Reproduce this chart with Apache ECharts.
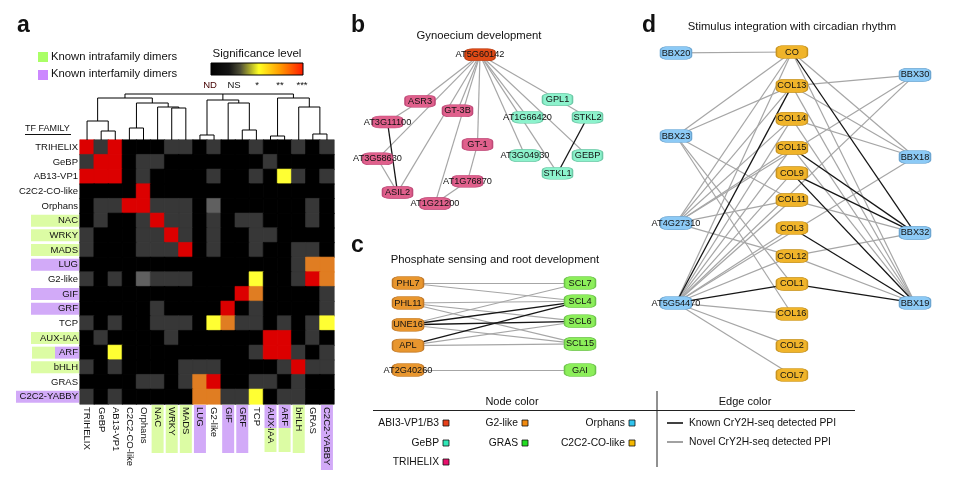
<!DOCTYPE html>
<html><head><meta charset="utf-8">
<script src="https://cdn.jsdelivr.net/npm/echarts@6/dist/echarts.min.js"></script>
<style>html,body{margin:0;padding:0;background:#fff}#c{width:960px;height:481px}</style>
</head><body><div id="c"></div>
<script>
const FONT = '"Liberation Sans", Arial, Helvetica, sans-serif';

// ---------- panel a : heatmap ----------
const families = ['TRIHELIX','GeBP','AB13-VP1','C2C2-CO-like','Orphans','NAC','WRKY','MADS','LUG','G2-like','GIF','GRF','TCP','AUX-IAA','ARF','bHLH','GRAS','C2C2-YABBY'];
// 0 ND, 1 NS, 2 NS (lighter), 3 *, 4 **, 5 ***
const significance = [
  [5,1,5,0,0,0,1,1,0,1,0,0,1,0,0,1,0,1],
  [1,5,5,0,1,1,0,0,0,0,0,0,0,1,0,0,0,0],
  [5,5,5,0,1,0,0,0,0,1,0,0,1,0,3,1,0,1],
  [0,0,0,0,5,0,0,0,0,0,0,0,0,0,0,0,0,0],
  [0,1,1,5,5,1,1,1,0,2,0,0,0,0,0,0,1,0],
  [0,1,0,0,1,5,1,1,0,1,0,1,1,0,0,0,1,0],
  [1,0,0,0,1,1,5,1,0,1,0,0,1,1,0,0,0,0],
  [1,0,0,0,1,1,1,5,0,1,0,0,1,0,0,1,1,0],
  [0,0,0,0,0,0,0,0,0,0,0,0,0,0,0,1,4,4],
  [1,0,1,0,2,1,1,1,0,0,0,0,3,0,0,1,5,4],
  [0,0,0,0,0,0,0,0,0,0,0,5,4,0,0,0,0,1],
  [0,0,0,0,0,1,0,0,0,0,5,0,1,0,0,0,0,1],
  [1,0,1,0,0,1,1,1,0,3,4,1,1,0,1,0,1,3],
  [0,1,0,0,0,0,1,0,0,0,0,0,0,5,5,0,1,0],
  [0,0,3,0,0,0,0,0,0,0,0,0,1,5,5,1,0,1],
  [1,0,1,0,0,0,0,1,1,1,0,0,0,0,1,5,1,1],
  [0,0,0,0,1,1,0,1,4,5,0,0,1,1,0,1,0,0],
  [1,0,1,0,0,0,0,0,4,4,1,1,3,0,1,1,0,0]
];
const levelColors = ['#000000','#373737','#606060','#ffff33','#e07d22','#dc0000'];
const sigTicks = ['ND','NS','*','**','***'];
// dendrogram (linkage: clusters get ids 18,19,...)
const dendroChildren = [[1,2],[0,18],[3,4],[6,7],[5,21],[20,22],[19,23],[8,9],[11,12],[10,26],[25,27],[13,14],[16,17],[15,30],[29,31],[24,28,32]];
const dendroHeights  = [9,19,12,32,33,37,42,5,10,37,40,4,6,33,42,46];
// label backgrounds: g known intrafamily, p known interfamily
const rowLabelKind = {NAC:'g',WRKY:'g',MADS:'g',LUG:'p',GIF:'p',GRF:'p','AUX-IAA':'g',ARF:'gp',bHLH:'g','C2C2-YABBY':'pw'};
const colLabelKind = {NAC:'g',WRKY:'g',MADS:'g',LUG:'p',GIF:'p',GRF:'p','AUX-IAA':'pg',ARF:'pg',bHLH:'g','C2C2-YABBY':'pw'};

// ---------- panel b ----------
const gynNodes  = ['AT5G60142','ASR3','GT-3B','AT3G11100','GT-1','AT3G58630','ASIL2','AT1G76870','AT1G21200','GPL1','AT1G66420','STKL2','AT3G04930','GEBP','STKL1'];
const gynFamily = ['ABI3','TRI','TRI','TRI','TRI','TRI','TRI','TRI','TRI','GEBP','GEBP','GEBP','GEBP','GEBP','GEBP'];
const gynX = [48,24,39,11,47,7,15,43,30,79,67,91,66,91,79];
const gynY = [3,32,38,45,59,68,89,82,96,31,42,42,66,66,77];
const gynKnown = [['AT3G11100','ASIL2'],['STKL2','STKL1']];
const gynNovel = [['AT5G60142','ASR3'],['ASR3','AT3G11100'],['AT5G60142','AT3G58630'],['AT5G60142','GT-3B'],['AT5G60142','ASIL2'],['AT5G60142','AT1G21200'],['AT5G60142','GT-1'],['GT-1','AT1G76870'],['AT1G76870','AT1G21200'],['AT3G58630','ASIL2'],['AT5G60142','GPL1'],['AT5G60142','AT1G66420'],['AT5G60142','AT3G04930'],['AT5G60142','STKL1'],['AT5G60142','GEBP'],['GPL1','STKL2']];

// ---------- panel c ----------
const phoNodes  = ['PHL7','PHL11','UNE16','APL','AT2G40260','SCL7','SCL4','SCL6','SCL15','GAI'];
const phoFamily = ['G2','G2','G2','G2','G2','GRAS','GRAS','GRAS','GRAS','GRAS'];
const phoX = [0,0,0,0,0,100,100,100,100,100];
const phoY = [0,23,48,72,100,0,21,44,70,100];
const phoKnown = [['UNE16','SCL4'],['UNE16','SCL6'],['APL','SCL4']];
const phoNovel = [['PHL7','SCL7'],['PHL7','SCL4'],['PHL11','SCL4'],['PHL11','SCL6'],['PHL11','SCL15'],['UNE16','SCL7'],['UNE16','SCL15'],['APL','SCL6'],['APL','SCL15'],['AT2G40260','GAI']];

// ---------- panel d ----------
const cirNodes  = ['BBX20','BBX23','AT4G27310','AT5G54470','CO','COL13','COL14','COL15','COL9','COL11','COL3','COL12','COL1','COL16','COL2','COL7','BBX30','BBX18','BBX32','BBX19'];
const cirFamily = ['ORPH','ORPH','ORPH','ORPH','CO','CO','CO','CO','CO','CO','CO','CO','CO','CO','CO','CO','ORPH','ORPH','ORPH','ORPH'];
const cirX = [0,0,0,0,48.5,48.5,48.5,48.5,48.5,48.5,48.5,48.5,48.5,48.5,48.5,48.5,100,100,100,100];
const cirY = [0.3,26,53,77.7,0,10.5,20.7,29.7,37.5,45.8,54.5,63.2,71.8,81.1,91,100,7.1,32.5,56,77.7];
const cirKnown = [['CO','BBX32'],['COL13','AT5G54470'],['COL15','BBX32'],['COL9','BBX32'],['COL9','BBX19'],['COL3','BBX19'],['COL1','BBX19'],['COL1','AT5G54470']];
const cirNovel = [['CO','BBX20'],['CO','BBX23'],['CO','AT4G27310'],['CO','AT5G54470'],['CO','BBX18'],['CO','BBX19'],
  ['COL13','BBX23'],['COL13','BBX30'],['COL13','AT4G27310'],['COL13','BBX18'],['COL13','BBX19'],
  ['COL14','AT4G27310'],['COL14','AT5G54470'],['COL14','BBX18'],['COL14','BBX19'],
  ['COL15','AT4G27310'],['COL15','AT5G54470'],['COL15','BBX19'],['COL9','AT5G54470'],
  ['COL11','AT4G27310'],['COL11','BBX23'],['COL11','AT5G54470'],['COL11','BBX32'],
  ['COL3','AT5G54470'],['COL12','AT4G27310'],['COL12','AT5G54470'],['COL12','BBX32'],['COL12','BBX19'],
  ['COL1','BBX23'],['COL16','BBX23'],['COL16','AT5G54470'],['COL2','AT5G54470'],['COL7','AT5G54470'],
  ['BBX30','AT5G54470'],['BBX30','AT4G27310'],['BBX18','AT5G54470']];

// ---------- legend ----------
const nodeLegend = [['ABI3-VP1/B3','ABI3'],['G2-like','G2'],['Orphans','ORPH'],['GeBP','GEBP'],['GRAS','GRAS'],['C2C2-CO-like','CO'],['TRIHELIX','TRI']];

// ---------- styles ----------
const nodeFill   = {ABI3:'#de4a16',TRI:'#e0608c',GEBP:'#8cf2cc',G2:'#e8962e',GRAS:'#8cee5a',CO:'#f0b42a',ORPH:'#8ccaf6'};
const nodeBorder = {ABI3:'#b83a10',TRI:'#bf4a78',GEBP:'#6cc8a6',G2:'#c07828',GRAS:'#6cc44a',CO:'#c89420',ORPH:'#6ca6d2'};
const legendFill = {ABI3:'#e8401a',G2:'#f08a10',ORPH:'#30c4ee',GEBP:'#30e8b8',GRAS:'#22dd22',CO:'#f4b800',TRI:'#e8106c'};
const GREEN_BG = '#dcfca4', PURPLE_BG = '#d2aaf8';

// ---------- build ----------
const heatData = [];
significance.forEach((row, r) => row.forEach((v, c) => heatData.push({value: [c, r, v],
  itemStyle: {borderColor: levelColors[v], borderWidth: 0.6}})));

// dendrogram geometry from linkage
const dPos = families.map((_, i) => ({x: i, h: 0}));
const dendroLines = [];
dendroChildren.forEach((ch, k) => {
  const h = dendroHeights[k];
  const pts = ch.map(id => dPos[id]);
  const first = pts[0], last = pts[pts.length - 1];
  dendroLines.push({coords: [[first.x, first.h], [first.x, h], [last.x, h], [last.x, last.h]]});
  pts.slice(1, -1).forEach(p => dendroLines.push({coords: [[p.x, p.h], [p.x, h]]}));
  dPos.push({x: (first.x + last.x) / 2, h: h});
});

function rowLabel(name) {
  const k = rowLabelKind[name];
  if (!k) return '{n|' + name + '}';
  if (k === 'gp') return '{gs| }{pr|' + name + '}';
  return '{' + k + '|' + name + '}';
}
function colLabel(name) {
  const k = colLabelKind[name];
  if (!k) return '{n|' + name + '}';
  if (k === 'pg') {
    if (name === 'AUX-IAA') return '{pc|AUX-}{gc|IAA}';
    return '{pc|' + name + '}{gc| }';
  }
  return '{' + k + '|' + name + '}';
}

function graphSeries(idx, nodes, fam, xs, ys, known, novel, size) {
  return {
    type: 'graph', coordinateSystem: 'cartesian2d', xAxisIndex: idx, yAxisIndex: idx,
    symbol: 'roundRect', symbolSize: size, silent: true, z: 3,
    label: {show: true, position: 'inside', fontSize: 9.2, color: '#111', fontFamily: FONT},
    emphasis: {disabled: true},
    data: nodes.map((n, i) => ({name: n, value: [xs[i], ys[i]],
      itemStyle: {color: nodeFill[fam[i]], borderColor: nodeBorder[fam[i]], borderWidth: 1}})),
    links: novel.map(e => ({source: e[0], target: e[1], lineStyle: {color: '#a6a6a6', width: 1.2}}))
      .concat(known.map(e => ({source: e[0], target: e[1], lineStyle: {color: '#161616', width: 1.3}}))),
    lineStyle: {opacity: 1, curveness: 0}
  };
}

const hiddenAxis = (min, max, inverse) => ({type: 'value', min, max, inverse: !!inverse, show: false});

const graphics = [];
function txt(text, x, y, size, opt) {
  graphics.push({type: 'text', silent: true, style: Object.assign({text, x, y, fill: '#111',
    font: (opt && opt.weight ? opt.weight + ' ' : '') + size + 'px ' + FONT,
    textAlign: 'center', textVerticalAlign: 'middle'}, opt && opt.style)});
}
// panel letters
['a','b','c','d'].forEach((l, i) => {
  const pos = [[17, 26], [351, 26], [351, 246], [642, 26]][i];
  txt(l, pos[0], pos[1], 23, {weight: 'bold', style: {textAlign: 'left'}});
});
// heatmap legend
graphics.push({type: 'rect', silent: true, shape: {x: 38, y: 52, width: 10, height: 10}, style: {fill: '#aaff66'}});
graphics.push({type: 'rect', silent: true, shape: {x: 38, y: 70, width: 10, height: 10}, style: {fill: '#cc88ff'}});
txt('Known intrafamily dimers', 51, 57, 11.3, {style: {textAlign: 'left'}});
txt('Known interfamily dimers', 51, 74, 11.3, {style: {textAlign: 'left'}});
txt('Significance level', 257, 54, 11.5);
graphics.push({type: 'rect', silent: true, shape: {x: 211, y: 63, width: 92, height: 12},
  style: {stroke: '#000', lineWidth: 1, fill: new echarts.graphic.LinearGradient(0, 0, 1, 0, [
    {offset: 0, color: '#000000'}, {offset: 0.2, color: '#141414'}, {offset: 0.32, color: '#4e4e36'},
    {offset: 0.52, color: '#ffff22'}, {offset: 0.75, color: '#ff9a00'}, {offset: 1, color: '#ff1800'}])}});
const tickX = [210, 234, 257, 280, 302];
sigTicks.forEach((t, i) => txt(t, tickX[i], 85, 9.5, {style: {fill: i === 0 ? '#400' : '#111'}}));
txt('TF FAMILY', 25, 129, 9, {style: {textAlign: 'left'}});
graphics.push({type: 'line', silent: true, shape: {x1: 25, y1: 134.5, x2: 71, y2: 134.5}, style: {stroke: '#111', lineWidth: 1}});
// panel titles
txt('Gynoecium development', 479, 36, 11.3);
txt('Phosphate sensing and root development', 495, 260, 11.3);
txt('Stimulus integration with circadian rhythm', 792, 27, 11.3);
// bottom legend
graphics.push({type: 'line', silent: true, shape: {x1: 373, y1: 410.5, x2: 855, y2: 410.5}, style: {stroke: '#222', lineWidth: 1}});
graphics.push({type: 'line', silent: true, shape: {x1: 657, y1: 391, x2: 657, y2: 467}, style: {stroke: '#222', lineWidth: 1}});
txt('Node color', 512, 402, 11);
txt('Edge color', 745, 402, 11);
const legX = [439, 518, 625], legY = [423, 443, 462];
nodeLegend.forEach((e, i) => {
  const x = legX[i % 3], y = legY[Math.floor(i / 3)];
  txt(e[0], x, y, 10.3, {style: {textAlign: 'right'}});
  graphics.push({type: 'rect', silent: true, shape: {x: x + 4, y: y - 3, width: 6, height: 6},
    style: {fill: legendFill[e[1]], stroke: '#111', lineWidth: 0.8}});
});
graphics.push({type: 'line', silent: true, shape: {x1: 667, y1: 423, x2: 683, y2: 423}, style: {stroke: '#111', lineWidth: 1.6}});
graphics.push({type: 'line', silent: true, shape: {x1: 667, y1: 442, x2: 683, y2: 442}, style: {stroke: '#8a8a8a', lineWidth: 1.6}});
txt('Known CrY2H-seq detected PPI', 689, 423, 10.3, {style: {textAlign: 'left'}});
txt('Novel CrY2H-seq detected PPI', 689, 442, 10.3, {style: {textAlign: 'left'}});

const labBase = {fontSize: 9.5, fontFamily: FONT, color: '#111'};
const option = {
  backgroundColor: '#fff',
  animation: false,
  textStyle: {fontFamily: FONT},
  grid: [
    {left: 80, top: 140, width: 254, height: 264},
    {left: 80, top: 90, width: 254, height: 50},
    {left: 360, top: 50, width: 250, height: 160},
    {left: 408, top: 283, width: 172, height: 87},
    {left: 676, top: 52, width: 239, height: 323}
  ],
  xAxis: [
    {type: 'category', gridIndex: 0, data: families, position: 'bottom',
      axisLine: {show: false}, axisTick: {show: false}, splitLine: {show: false},
      axisLabel: {interval: 0, rotate: -90, margin: 1, formatter: colLabel,
        rich: {
          n: Object.assign({}, labBase, {padding: [0, 0, 0, 2]}),
          g: Object.assign({}, labBase, {backgroundColor: GREEN_BG, width: 46, height: 12, padding: [0, 0, 0, 2]}),
          p: Object.assign({}, labBase, {backgroundColor: PURPLE_BG, width: 46, height: 12, padding: [0, 0, 0, 2]}),
          pw: Object.assign({}, labBase, {backgroundColor: PURPLE_BG, width: 63, height: 12, padding: [0, 0, 0, 2]}),
          pc: Object.assign({}, labBase, {backgroundColor: PURPLE_BG, width: 21, height: 12, padding: [0, 0, 0, 2]}),
          gc: Object.assign({}, labBase, {backgroundColor: GREEN_BG, width: 24, height: 12})
        }}},
    {type: 'value', gridIndex: 1, min: -0.5, max: 17.5, show: false},
    Object.assign(hiddenAxis(0, 100), {gridIndex: 2}),
    Object.assign(hiddenAxis(0, 100), {gridIndex: 3}),
    Object.assign(hiddenAxis(0, 100), {gridIndex: 4})
  ],
  yAxis: [
    {type: 'category', gridIndex: 0, data: families, inverse: true,
      axisLine: {show: false}, axisTick: {show: false}, splitLine: {show: false},
      axisLabel: {interval: 0, margin: 1, formatter: rowLabel,
        rich: {
          n: Object.assign({}, labBase, {padding: [0, 1, 0, 0]}),
          g: Object.assign({}, labBase, {backgroundColor: GREEN_BG, width: 47, height: 12, align: 'right', padding: [0, 1, 0, 0]}),
          p: Object.assign({}, labBase, {backgroundColor: PURPLE_BG, width: 47, height: 12, align: 'right', padding: [0, 1, 0, 0]}),
          pw: Object.assign({}, labBase, {backgroundColor: PURPLE_BG, width: 62, height: 12, align: 'right', padding: [0, 1, 0, 0]}),
          gs: Object.assign({}, labBase, {backgroundColor: GREEN_BG, width: 23, height: 12}),
          pr: Object.assign({}, labBase, {backgroundColor: PURPLE_BG, width: 23, height: 12, align: 'right', padding: [0, 1, 0, 0]})
        }}},
    {type: 'value', gridIndex: 1, min: 0, max: 50, show: false},
    Object.assign(hiddenAxis(0, 100, true), {gridIndex: 2}),
    Object.assign(hiddenAxis(0, 100, true), {gridIndex: 3}),
    Object.assign(hiddenAxis(0, 100, true), {gridIndex: 4})
  ],
  visualMap: {type: 'piecewise', show: false, seriesIndex: 0, dimension: 2,
    pieces: levelColors.map((c, i) => ({value: i, color: c}))},
  series: [
    {type: 'heatmap', xAxisIndex: 0, yAxisIndex: 0, data: heatData, silent: true, emphasis: {disabled: true}},
    {type: 'lines', coordinateSystem: 'cartesian2d', xAxisIndex: 1, yAxisIndex: 1, polyline: true, silent: true,
      data: dendroLines, lineStyle: {color: '#000', width: 1, opacity: 1}},
    graphSeries(2, gynNodes, gynFamily, gynX, gynY, gynKnown, gynNovel, [30, 12]),
    graphSeries(3, phoNodes, phoFamily, phoX, phoY, phoKnown, phoNovel, [31, 13]),
    graphSeries(4, cirNodes, cirFamily, cirX, cirY, cirKnown, cirNovel, [31, 13])
  ],
  graphic: graphics
};
const chart = echarts.init(document.getElementById('c'));
chart.setOption(option);
</script></body></html>
